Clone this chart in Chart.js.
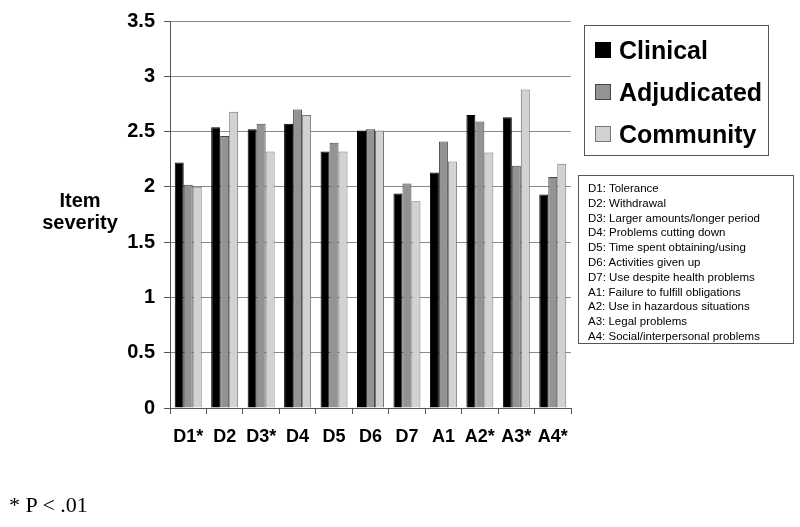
<!DOCTYPE html>
<html>
<head>
<meta charset="utf-8">
<script src="https://cdn.jsdelivr.net/npm/chart.js@4"></script>
<style>
  body { margin: 0; background: #fff; }
  #wrap { position: relative; width: 800px; height: 527px; font-family: Arial, "Liberation Sans", sans-serif; }
  #grafico { position: absolute; left: 0; top: 0; }
  #titulo-y { position: absolute; left: 40px; top: 189px; width: 80px; text-align: center; font-weight: bold; font-size: 20px; line-height: 22px; }
  #leyenda { position: absolute; left: 584px; top: 25px; width: 185px; height: 131px; border: 1px solid #555; box-sizing: border-box; }
  .fila { position: absolute; left: 10px; font-weight: bold; font-size: 25px; line-height: 28px; white-space: nowrap; }
  .caja { display: inline-block; width: 16px; height: 16px; box-sizing: border-box; margin-right: 8px; vertical-align: 1px; }
  #claves { position: absolute; left: 578px; top: 175px; width: 216px; height: 169px; border: 1px solid #555; box-sizing: border-box; padding: 5px 0 0 9px; font-size: 11.5px; line-height: 14.8px; }
  #nota { position: absolute; left: 9px; top: 492px; font-family: "Liberation Serif", "Times New Roman", serif; font-size: 22px; }
</style>
</head>
<body>
<div id="wrap">
  <canvas id="grafico" width="800" height="527"></canvas>
  <div id="titulo-y">Item<br>severity</div>
  <div id="leyenda"></div>
  <div id="claves"></div>
  <div id="nota">* P &lt; .01</div>
</div>
<script>
/* ----- Datos ----- */
const categorias = ["D1*", "D2", "D3*", "D4", "D5", "D6", "D7", "A1", "A2*", "A3*", "A4*"];
const clinical    = [2.22, 2.54, 2.52, 2.57, 2.32, 2.51, 1.94, 2.13, 2.65, 2.63, 1.93];
const adjudicated = [2.02, 2.46, 2.57, 2.70, 2.40, 2.52, 2.03, 2.41, 2.59, 2.19, 2.09];
const community   = [2.00, 2.68, 2.32, 2.65, 2.32, 2.51, 1.87, 2.23, 2.31, 2.88, 2.21];
const series = ["Clinical", "Adjudicated", "Community"];
const ticksY = [0, 0.5, 1, 1.5, 2, 2.5, 3, 3.5];
const claves = [
    "D1: Tolerance", "D2: Withdrawal", "D3: Larger amounts/longer period",
    "D4: Problems cutting down", "D5: Time spent obtaining/using",
    "D6: Activities given up", "D7: Use despite health problems",
    "A1: Failure to fulfill obligations", "A2: Use in hazardous situations",
    "A3: Legal problems", "A4: Social/interpersonal problems"
];

const rellenos = ["#000000", "#939393", "#d2d2d2"];
const bordes = ["#000000", "#444444", "#777777"];
const valores = [clinical, adjudicated, community];

/* ----- Leyendas en HTML ----- */
const leyenda = document.getElementById("leyenda");
series.forEach((s, i) => {
    leyenda.innerHTML += `<div class="fila" style="top:${10 + i * 42}px"><span class="caja" style="background:${rellenos[i]};border:1px solid ${bordes[i]}"></span>${s}</div>`;
});
document.getElementById("claves").innerHTML = claves.join("<br>");

/* ----- Gráfico ----- */
new Chart(document.getElementById("grafico"), {
    type: "bar",
    data: {
        labels: categorias,
        datasets: series.map((s, i) => ({
            label: s,
            data: valores[i],
            backgroundColor: rellenos[i],
            borderColor: bordes[i],
            borderWidth: 1,
            categoryPercentage: 0.74,
            barPercentage: 1.0
        }))
    },
    options: {
        responsive: false,
        animation: false,
        layout: { padding: { left: 120, top: 20, right: 229, bottom: 0 } },
        plugins: { legend: { display: false }, tooltip: { enabled: false } },
        scales: {
            y: {
                min: 0, max: 3.5,
                afterFit: s => { s.width = 50; },
                afterBuildTicks: s => { s.ticks = ticksY.map(v => ({ value: v })); },
                border: { color: "#555555", width: 1 },
                grid: {
                    color: c => c.tick && c.tick.value === 0 ? "rgba(0,0,0,0)" : "#8a8a8a",
                    tickColor: "#555555",
                    tickLength: 6
                },
                ticks: {
                    color: "#000",
                    padding: 9,
                    callback: v => String(v),
                    font: { family: "Arial, 'Liberation Sans'", size: 20, weight: "bold" }
                }
            },
            x: {
                afterFit: s => { s.height = 119; },
                border: { color: "#555555", width: 1 },
                grid: { drawOnChartArea: false, tickColor: "#555555", tickLength: 6 },
                ticks: {
                    color: "#000",
                    padding: 12,
                    font: { family: "Arial, 'Liberation Sans'", size: 18, weight: "bold" }
                }
            }
        }
    }
});
</script>
</body>
</html>
